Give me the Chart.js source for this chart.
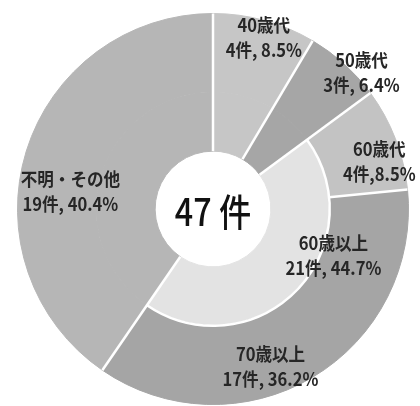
<!DOCTYPE html>
<html>
<head>
<meta charset="utf-8">
<script src="https://cdn.jsdelivr.net/npm/chart.js@4/dist/chart.umd.min.js"></script>
<style>
  html, body { margin: 0; padding: 0; background: #fff; }
  #wrap { width: 420px; height: 406px; }
</style>
</head>
<body>
<div id="wrap"><canvas id="ageChart" width="420" height="406"></canvas></div>
<script>
// outer ring: age groups
const ageLabels = ['40歳代', '50歳代', '60歳代', '70歳以上', '不明・その他'];
const ageCounts = [4, 3, 4, 17, 19];
const ageColors = ['#c6c6c6', '#a6a6a6', '#c3c3c3', '#a5a5a5', '#b6b6b6'];
const commaGap = [' ', ' ', '', ' ', ' '];

// inner ring: 60+ merged
const innerLabels = ['40歳代', '50歳代', '60歳以上', '不明・その他'];
const innerCounts = [4, 3, 21, 19];
const innerColors = ['#c6c6c6', '#a6a6a6', '#e3e3e3', '#b6b6b6'];

const total = ageCounts.reduce((a, b) => a + b, 0);
const centerText = total + ' 件';

// label spots: [degrees from top, fraction of outer radius]
const outerLabelPos = [[16.5, 0.915], [47.5, 1.03], [74, 0.885], [160, 0.86], [277, 0.735]];
const innerLabelPos = [null, null, [111, 0.66], null];

const pct = n => (n / total * 100).toFixed(1) + '%';
const font = '"Noto Sans CJK JP", "Noto Sans", sans-serif';

const decor = {
  id: 'decor',
  afterDatasetsDraw(chart){
    const c = chart.ctx;
    const outer = chart.getDatasetMeta(0).data;
    const inner = chart.getDatasetMeta(1).data;
    const cx = outer[0].x, cy = outer[0].y;
    const cut = inner[0].innerRadius;
    const R = outer[0].outerRadius;

    c.save();
    c.strokeStyle = '#fff';
    c.lineWidth = 2.5;
    // radial separators
    outer.forEach((a, i) => {
      const prev = (i + ageLabels.length - 1) % ageLabels.length;
      const merged = innerLabels.indexOf(ageLabels[i]) < 0 && innerLabels.indexOf(ageLabels[prev]) < 0;
      const r0 = merged ? a.innerRadius : cut;
      const ang = a.startAngle;
      c.beginPath();
      c.moveTo(cx + Math.cos(ang) * r0, cy + Math.sin(ang) * r0);
      c.lineTo(cx + Math.cos(ang) * a.outerRadius, cy + Math.sin(ang) * a.outerRadius);
      c.stroke();
    });
    // seam round the merged inner slice
    inner.forEach((a, i) => {
      if(ageLabels.indexOf(innerLabels[i]) >= 0) return;
      c.beginPath();
      c.arc(cx, cy, a.outerRadius, a.startAngle, a.endAngle);
      c.stroke();
    });

    // labels (squeezed a little, like the original gothic)
    c.fillStyle = '#262626';
    c.textAlign = 'center';
    c.textBaseline = 'middle';
    c.font = 'bold 18px ' + font;
    const put = (pos, l1, l2) => {
      const t = (pos[0] - 90) * Math.PI / 180;
      const x = cx + Math.cos(t) * R * pos[1];
      const y = cy + Math.sin(t) * R * pos[1];
      c.save();
      c.translate(x, y);
      c.scale(0.92, 1);
      c.fillText(l1, 0, -12.5);
      c.fillText(l2, 0, 12.5);
      c.restore();
    };
    ageLabels.forEach((l, i) => {
      put(outerLabelPos[i], l, ageCounts[i] + '件,' + commaGap[i] + pct(ageCounts[i]));
    });
    innerLabels.forEach((l, i) => {
      if(!innerLabelPos[i]) return;
      put(innerLabelPos[i], l, innerCounts[i] + '件, ' + pct(innerCounts[i]));
    });

    // total in the hole
    c.font = '500 38px ' + font;
    c.fillStyle = '#111';
    c.translate(cx, cy + 3);
    c.scale(0.85, 1);
    c.fillText(centerText, 0, 0);
    c.restore();
  }
};

const ctx = document.getElementById('ageChart').getContext('2d');
new Chart(ctx, {
  type: 'doughnut',
  data: {
    labels: ageLabels,
    datasets: [{
      data: ageCounts,
      backgroundColor: ageColors,
      borderColor: ageColors,
      borderWidth: 1,
      weight: 79
    }, {
      labels: innerLabels,
      data: innerCounts,
      backgroundColor: innerColors,
      borderColor: innerColors,
      borderWidth: 1,
      weight: 59
    }]
  },
  options: {
    responsive: false,
    animation: false,
    cutout: '29.6%',
    layout: { padding: { left: 17, right: 11, top: 13, bottom: 1 } },
    plugins: { legend: { display: false }, tooltip: { enabled: false } }
  },
  plugins: [decor]
});
</script>
</body>
</html>
